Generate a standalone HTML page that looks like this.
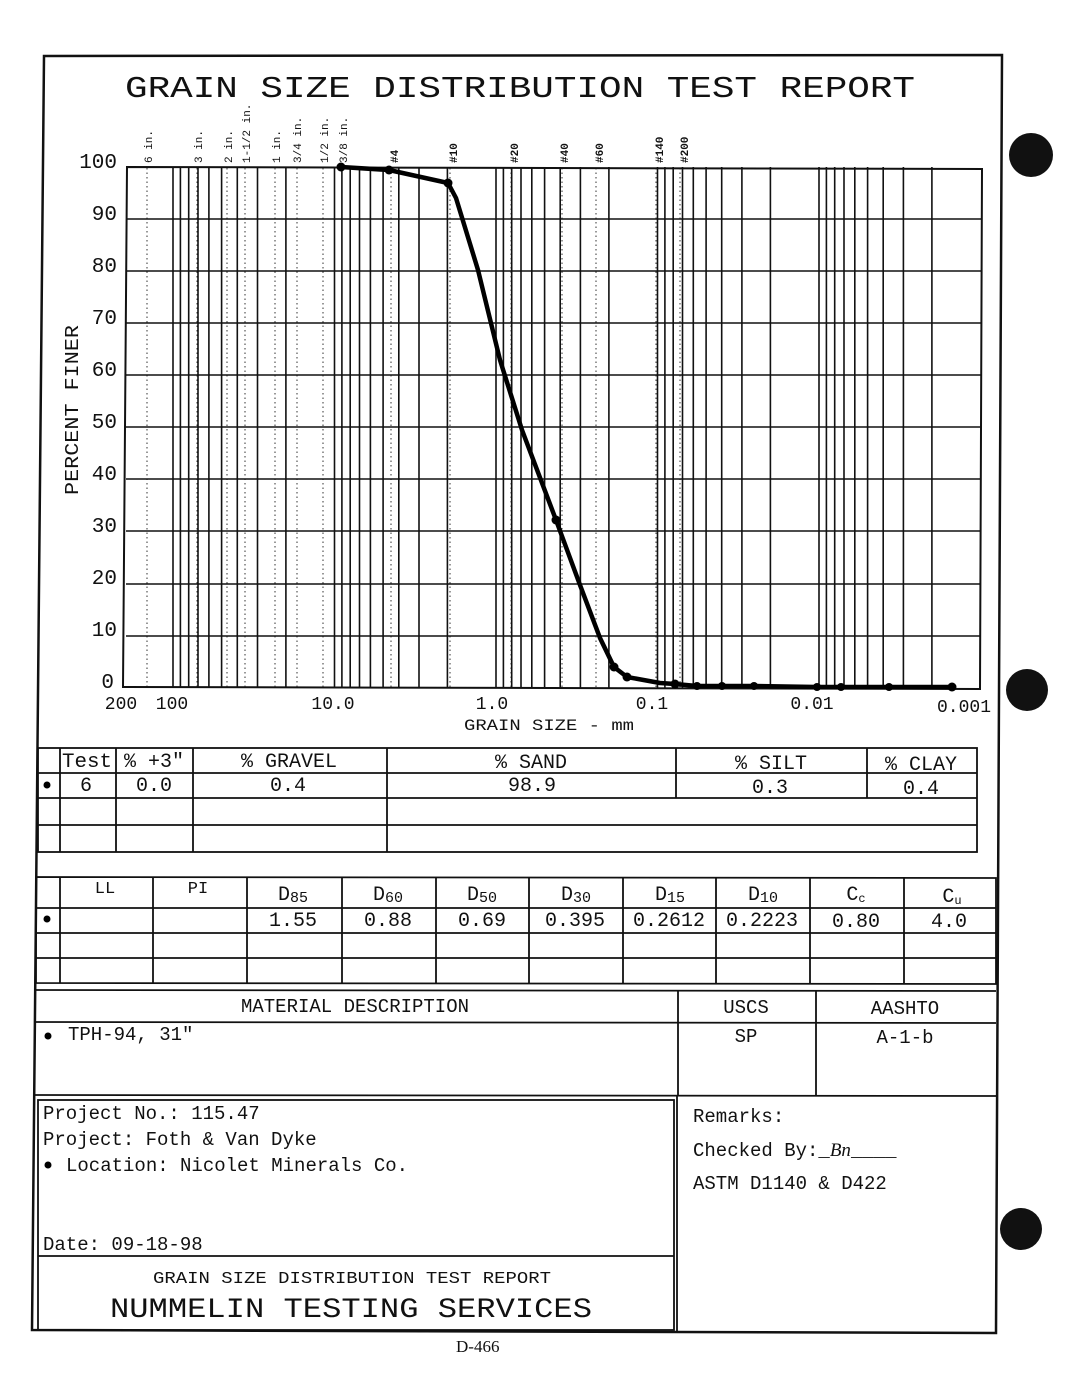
<!DOCTYPE html>
<html><head><meta charset="utf-8"><style>
html,body{margin:0;padding:0;background:#fff;}
svg{display:block;}
</style></head><body>
<svg width="1068" height="1380" viewBox="0 0 1068 1380" xmlns="http://www.w3.org/2000/svg" font-family="Liberation Sans, sans-serif" fill="#111">
<rect width="1068" height="1380" fill="#fff"/>
<path d="M44 56 L1002 55 L996 1333 L32 1330 Z" fill="none" stroke="#111" stroke-width="2.5"/>
<circle cx="1031" cy="155" r="22" fill="#111"/>
<circle cx="1027" cy="690" r="21" fill="#111"/>
<circle cx="1021" cy="1229" r="21" fill="#111"/>

<text x="125" y="97" font-size="31" font-family="Liberation Mono, monospace" textLength="790" lengthAdjust="spacingAndGlyphs">GRAIN SIZE DISTRIBUTION TEST REPORT</text>

<g font-size="11" font-family="Liberation Mono, monospace">
<text transform="translate(152,163) rotate(-90)">6 in.</text>
<text transform="translate(202,163) rotate(-90)">3 in.</text>
<text transform="translate(232,163) rotate(-90)">2 in.</text>
<text transform="translate(250,163) rotate(-90)">1-1/2 in.</text>
<text transform="translate(280,163) rotate(-90)">1 in.</text>
<text transform="translate(301,163) rotate(-90)">3/4 in.</text>
<text transform="translate(328,163) rotate(-90)">1/2 in.</text>
<text transform="translate(347,163) rotate(-90)">3/8 in.</text>
<text transform="translate(398,163) rotate(-90)" font-weight="bold">#4</text>
<text transform="translate(457,163) rotate(-90)" font-weight="bold">#10</text>
<text transform="translate(518,163) rotate(-90)" font-weight="bold">#20</text>
<text transform="translate(568,163) rotate(-90)" font-weight="bold">#40</text>
<text transform="translate(603,163) rotate(-90)" font-weight="bold">#60</text>
<text transform="translate(663,163) rotate(-90)" font-weight="bold">#140</text>
<text transform="translate(688,163) rotate(-90)" font-weight="bold">#200</text>
</g>

<g stroke="#333" stroke-width="1" stroke-dasharray="1.5,3">
<line x1="147" y1="168" x2="147" y2="687"/><line x1="197" y1="168" x2="197" y2="687"/>
<line x1="227" y1="168" x2="227" y2="687"/><line x1="245" y1="168" x2="245" y2="687"/>
<line x1="275" y1="168" x2="275" y2="687"/><line x1="297" y1="168" x2="297" y2="687"/>
<line x1="323" y1="168" x2="323" y2="687"/><line x1="342" y1="168" x2="342" y2="687"/>
<line x1="391" y1="168" x2="391" y2="687"/><line x1="450" y1="168" x2="450" y2="687"/>
<line x1="511" y1="168" x2="511" y2="687"/><line x1="562" y1="168" x2="562" y2="687"/>
<line x1="596" y1="168" x2="596" y2="687"/><line x1="656" y1="168" x2="656" y2="687"/>
<line x1="680" y1="168" x2="680" y2="687"/>
</g>

<g stroke="#111" stroke-width="1.6">
<line x1="173" y1="167" x2="173" y2="688"/><line x1="180.4" y1="167" x2="180.4" y2="688"/><line x1="188.7" y1="167" x2="188.7" y2="688"/><line x1="198" y1="167" x2="198" y2="688"/><line x1="208.9" y1="167" x2="208.9" y2="688"/><line x1="221.6" y1="167" x2="221.6" y2="688"/><line x1="237.3" y1="167" x2="237.3" y2="688"/><line x1="257.5" y1="167" x2="257.5" y2="688"/><line x1="285.9" y1="167" x2="285.9" y2="688"/>
<line x1="334.5" y1="167" x2="334.5" y2="688"/><line x1="341.9" y1="167" x2="341.9" y2="688"/><line x1="350.2" y1="167" x2="350.2" y2="688"/><line x1="359.5" y1="167" x2="359.5" y2="688"/><line x1="370.4" y1="167" x2="370.4" y2="688"/><line x1="383.1" y1="167" x2="383.1" y2="688"/><line x1="398.8" y1="167" x2="398.8" y2="688"/><line x1="419" y1="167" x2="419" y2="688"/><line x1="447.4" y1="167" x2="447.4" y2="688"/>
<line x1="496" y1="167" x2="496" y2="688"/><line x1="503.4" y1="167" x2="503.4" y2="688"/><line x1="511.7" y1="167" x2="511.7" y2="688"/><line x1="521" y1="167" x2="521" y2="688"/><line x1="531.8" y1="167" x2="531.8" y2="688"/><line x1="544.6" y1="167" x2="544.6" y2="688"/><line x1="560.2" y1="167" x2="560.2" y2="688"/><line x1="580.4" y1="167" x2="580.4" y2="688"/><line x1="608.9" y1="167" x2="608.9" y2="688"/>
<line x1="657.5" y1="167" x2="657.5" y2="688"/><line x1="664.9" y1="167" x2="664.9" y2="688"/><line x1="673.2" y1="167" x2="673.2" y2="688"/><line x1="682.5" y1="167" x2="682.5" y2="688"/><line x1="693.3" y1="167" x2="693.3" y2="688"/><line x1="706.1" y1="167" x2="706.1" y2="688"/><line x1="721.7" y1="167" x2="721.7" y2="688"/><line x1="741.9" y1="167" x2="741.9" y2="688"/><line x1="770.4" y1="167" x2="770.4" y2="688"/>
<line x1="819" y1="167" x2="819" y2="688"/><line x1="826.4" y1="167" x2="826.4" y2="688"/><line x1="834.7" y1="167" x2="834.7" y2="688"/><line x1="844" y1="167" x2="844" y2="688"/><line x1="854.8" y1="167" x2="854.8" y2="688"/><line x1="867.6" y1="167" x2="867.6" y2="688"/><line x1="883.2" y1="167" x2="883.2" y2="688"/><line x1="903.4" y1="167" x2="903.4" y2="688"/><line x1="931.9" y1="167" x2="931.9" y2="688"/>
</g>
<g stroke="#111" stroke-width="1.6">
<line x1="126" y1="219" x2="981" y2="219"/><line x1="126" y1="271" x2="981" y2="271"/><line x1="126" y1="323" x2="981" y2="323"/><line x1="126" y1="375" x2="981" y2="375"/><line x1="126" y1="427" x2="981" y2="427"/><line x1="126" y1="479" x2="981" y2="479"/><line x1="126" y1="531" x2="981" y2="531"/><line x1="126" y1="584" x2="981" y2="584"/><line x1="126" y1="636" x2="981" y2="636"/>
</g>
<path d="M127 167 L982 169 L980 689 L123 687 Z" fill="none" stroke="#111" stroke-width="2"/>

<g font-size="21" font-family="Liberation Mono, monospace" text-anchor="end">
<text x="117" y="168">100</text><text x="117" y="220">90</text><text x="117" y="272">80</text><text x="117" y="324">70</text><text x="117" y="376">60</text><text x="117" y="428">50</text><text x="117" y="480">40</text><text x="117" y="532">30</text><text x="117" y="584">20</text><text x="117" y="636">10</text><text x="114" y="688">0</text>
</g>
<text transform="translate(78,495) rotate(-90)" font-size="19" font-family="Liberation Mono, monospace" textLength="170" lengthAdjust="spacingAndGlyphs">PERCENT FINER</text>
<g font-size="18" font-family="Liberation Mono, monospace" text-anchor="middle">
<text x="121" y="709">200</text><text x="172" y="709">100</text><text x="333" y="709">10.0</text><text x="492" y="709">1.0</text><text x="652" y="709">0.1</text><text x="812" y="709">0.01</text><text x="964" y="712">0.001</text>
</g>
<text x="464" y="730" font-size="16" font-family="Liberation Mono, monospace" textLength="170" lengthAdjust="spacingAndGlyphs">GRAIN SIZE - mm</text>

<polyline fill="none" stroke="#000" stroke-width="4.5" stroke-linejoin="round" points="341,167 389,170 448,183 456,198 478,270 500,360 522,430 556,520 580,585 600,638 614,667 627,677 660,683 675,684 697,686 722,686 754,686 817,687 841,687 889,687 952,687"/>
<g fill="#000">
<circle cx="341" cy="167" r="4.5"/><circle cx="389" cy="170" r="4.5"/><circle cx="448" cy="183" r="4.5"/><circle cx="556" cy="520" r="4.5"/><circle cx="614" cy="667" r="4.5"/><circle cx="627" cy="677" r="4.5"/><circle cx="675" cy="684" r="4.5"/><circle cx="697" cy="686" r="4"/><circle cx="722" cy="686" r="4"/><circle cx="754" cy="686" r="4"/><circle cx="817" cy="687" r="4"/><circle cx="841" cy="687" r="4"/><circle cx="889" cy="687" r="4"/><circle cx="952" cy="687" r="4.5"/>
</g>

<g stroke="#111" stroke-width="1.8" fill="none">
<rect x="38" y="748" width="939" height="104"/>
<line x1="38" y1="773" x2="977" y2="773"/><line x1="38" y1="798" x2="977" y2="798"/><line x1="38" y1="825" x2="977" y2="825"/>
<line x1="60" y1="748" x2="60" y2="852"/><line x1="116" y1="748" x2="116" y2="852"/><line x1="193" y1="748" x2="193" y2="852"/><line x1="387" y1="748" x2="387" y2="852"/>
<line x1="676" y1="748" x2="676" y2="798"/><line x1="867" y1="748" x2="867" y2="798"/>
</g>
<g font-size="20" font-family="Liberation Mono, monospace" text-anchor="middle">
<text x="87" y="767" textLength="50" lengthAdjust="spacingAndGlyphs">Test</text><text x="154" y="767">% +3"</text><text x="289" y="767">% GRAVEL</text><text x="531" y="768">% SAND</text><text x="771" y="769">% SILT</text><text x="921" y="770">% CLAY</text>
<text x="86" y="791">6</text><text x="154" y="791">0.0</text><text x="288" y="791">0.4</text><text x="532" y="791">98.9</text><text x="770" y="793">0.3</text><text x="921" y="794">0.4</text>
</g>
<circle cx="47" cy="785" r="3.5" fill="#000"/>

<g stroke="#111" stroke-width="1.8" fill="none">
<path d="M36 877 L996 878 L996 984 L36 983 Z"/>
<line x1="36" y1="908" x2="996" y2="908"/><line x1="36" y1="933" x2="996" y2="933"/><line x1="36" y1="958" x2="996" y2="958"/>
<line x1="60" y1="877" x2="60" y2="983"/><line x1="153" y1="877" x2="153" y2="983"/><line x1="247" y1="877" x2="247" y2="983"/><line x1="342" y1="877" x2="342" y2="983"/><line x1="436" y1="877" x2="436" y2="983"/><line x1="529" y1="877" x2="529" y2="983"/><line x1="623" y1="877" x2="623" y2="983"/><line x1="716" y1="877" x2="716" y2="983"/><line x1="810" y1="877" x2="810" y2="983"/><line x1="904" y1="877" x2="904" y2="983"/>
</g>
<g font-size="20" font-family="Liberation Mono, monospace" text-anchor="middle">
<text x="105" y="893" font-size="17">LL</text><text x="198" y="893" font-size="17">PI</text>
<text x="293" y="900">D<tspan font-size="15" dy="2">85</tspan></text>
<text x="388" y="900">D<tspan font-size="15" dy="2">60</tspan></text>
<text x="482" y="900">D<tspan font-size="15" dy="2">50</tspan></text>
<text x="576" y="900">D<tspan font-size="15" dy="2">30</tspan></text>
<text x="670" y="900">D<tspan font-size="15" dy="2">15</tspan></text>
<text x="763" y="900">D<tspan font-size="15" dy="2">10</tspan></text>
<text x="856" y="900">C<tspan font-size="12" dy="2">c</tspan></text>
<text x="952" y="902">C<tspan font-size="12" dy="2">u</tspan></text>
<text x="293" y="926">1.55</text><text x="388" y="926">0.88</text><text x="482" y="926">0.69</text><text x="575" y="926">0.395</text><text x="669" y="926">0.2612</text><text x="762" y="926">0.2223</text><text x="856" y="927">0.80</text><text x="949" y="927">4.0</text>
</g>
<circle cx="47" cy="919" r="3.5" fill="#000"/>

<g stroke="#111" stroke-width="1.8" fill="none">
<line x1="34" y1="990" x2="996" y2="991"/><line x1="34" y1="1022" x2="996" y2="1023"/><line x1="34" y1="1095" x2="996" y2="1096"/>
<line x1="678" y1="991" x2="678" y2="1096"/><line x1="816" y1="991" x2="816" y2="1096"/>
<rect x="38" y="1100" width="636" height="230"/>
<line x1="38" y1="1256" x2="674" y2="1256"/>
<line x1="677" y1="1096" x2="677" y2="1332"/>
</g>
<g font-size="19" font-family="Liberation Mono, monospace">
<text x="355" y="1012" text-anchor="middle">MATERIAL DESCRIPTION</text>
<text x="746" y="1013" text-anchor="middle">USCS</text>
<text x="905" y="1014" text-anchor="middle">AASHTO</text>
<text x="68" y="1040">TPH-94, 31"</text>
<text x="746" y="1042" text-anchor="middle">SP</text>
<text x="905" y="1043" text-anchor="middle">A-1-b</text>
<text x="43" y="1119">Project No.: 115.47</text>
<text x="43" y="1145">Project: Foth &amp; Van Dyke</text>
<text x="66" y="1171">Location: Nicolet Minerals Co.</text>
<text x="43" y="1250">Date: 09-18-98</text>
<text x="693" y="1122">Remarks:</text>
<text x="693" y="1156">Checked By:_<tspan font-style="italic" font-family="Liberation Serif, serif">Bn</tspan>____</text>
<text x="693" y="1189">ASTM D1140 &amp; D422</text>
<text x="352" y="1283" text-anchor="middle" font-size="17" textLength="398" lengthAdjust="spacingAndGlyphs">GRAIN SIZE DISTRIBUTION TEST REPORT</text>
</g>
<circle cx="48" cy="1036" r="3.5" fill="#000"/>
<circle cx="48" cy="1165" r="3.5" fill="#000"/>
<text x="110" y="1317" font-size="28" font-family="Liberation Mono, monospace" textLength="482" lengthAdjust="spacingAndGlyphs">NUMMELIN TESTING SERVICES</text>
<text x="456" y="1352" font-size="17" font-family="Liberation Serif, serif">D-466</text>
</svg>
</body></html>
